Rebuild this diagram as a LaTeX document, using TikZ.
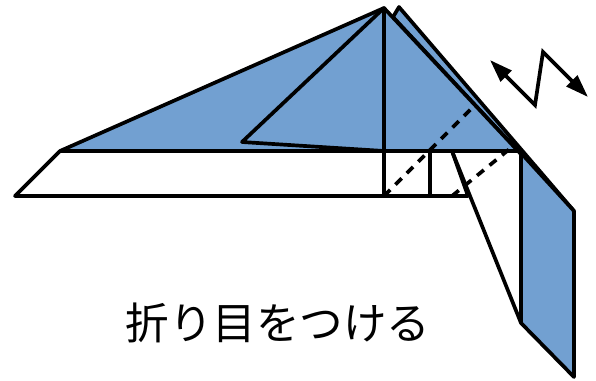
\documentclass[tikz,border=0pt]{standalone}
\usepackage{fontspec}
\newfontfamily\cjk{Noto Sans CJK JP}
\usepackage{xcolor}
\usetikzlibrary{arrows.meta}
\definecolor{flapblue}{RGB}{114,160,209}

\begin{document}
\begin{tikzpicture}[
    x=0.02cm, y=-0.02cm,
    fold/.style={draw=black, line width=2.1pt, line join=round},
    flap/.style={fold, fill=flapblue},
    crease/.style={black, line width=2.1pt, dash pattern=on 5pt off 4.2pt},
    arr/.style={black, line width=2.1pt, line join=miter, {Triangle[length=13pt,width=8.5pt]}-{Triangle[length=13pt,width=8.5pt]}},
    caption/.style={font=\cjk\fontsize{24.8pt}{28pt}\selectfont, inner sep=0pt}
]
\useasboundingbox (0,0) rectangle (596,380);

% Points of the paper
\coordinate (apex) at (384,8);
\coordinate (apexback) at (399,7);
\coordinate (notch) at (393,17);
\coordinate (right) at (518,151);
\coordinate (left) at (60,151);
\coordinate (farleft) at (15,196);
\coordinate (bottom) at (468,196);
\coordinate (inner) at (242,142);
\coordinate (midtop) at (384,151);
\coordinate (midbot) at (384,196);
\coordinate (sidetop) at (430,151);
\coordinate (sidebot) at (430,196);
\coordinate (slant) at (452,151);
\coordinate (flaptop) at (521,153);
\coordinate (flapcorner) at (574,211);
\coordinate (flapend) at (574,377);
\coordinate (flaplow) at (521,323);

% Blue parts
\draw[flap] (notch) -- (apexback) -- (flapcorner) -- (right) -- cycle;
\draw[flap] (apex) -- (right) -- (left) -- cycle;
\draw[flap] (flaptop) -- (flapcorner) -- (flapend) -- (flaplow) -- cycle;

% Lower strip
\draw[fold] (left) -- (farleft) -- (bottom) -- (slant);
\draw[fold] (left) -- (right);
\draw[fold] (slant) -- (flaplow);

% Inner triangle
\draw[fold] (midtop) -- (inner) -- (apex) -- (midbot);
\draw[fold] (sidetop) -- (sidebot);

% Creases
\draw[crease] (midbot) -- (475,105);
\draw[crease] (452,196) -- (512,147);

% Zigzag arrow
\coordinate (zigstart) at (490,60);
\coordinate (zigend) at (588,97);
\draw[arr] (zigstart) -- (535,105) -- (543,52) -- (zigend);

% Caption
\node[caption] (note) at (278,323) {折り目をつける};

\end{tikzpicture}
\end{document}
